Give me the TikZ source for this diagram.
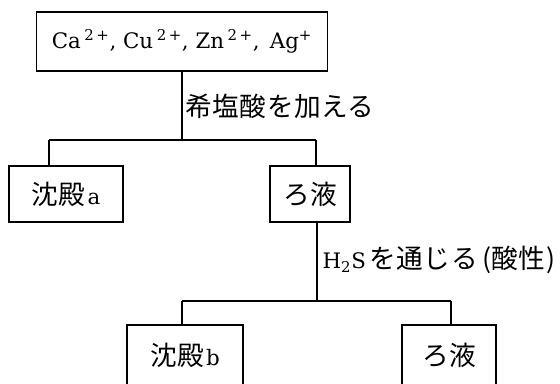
\documentclass[tikz,border=0pt]{standalone}
\usepackage{fontspec}
\setmainfont{DejaVu Serif}
\newfontfamily\jpfam[LetterSpace=2]{Noto Sans CJK JP}
\newcommand\ja[1]{{\fontsize{20}{24}\selectfont\jpfam #1}}
\newcommand\lt{\fontsize{16}{19}\selectfont}
\newcommand\ion[2]{#1\,\textsuperscript{#2}}
\begin{document}
\begin{tikzpicture}[x=0.75pt,y=-0.75pt,line width=0.8pt,
  box/.style={draw,rectangle,inner sep=0pt},
  lbl/.style={anchor=west,inner sep=0pt}]
\useasboundingbox (0,0) rectangle (560,383);
\clip (0,0) rectangle (560,383);
\node[box,minimum width=291*0.75pt,minimum height=59*0.75pt] (top) at (182,41.5)
  {\lt \ion{Ca}{2\,+}, \ion{Cu}{2\,+}, \ion{Zn}{2\,+}, \,Ag\textsuperscript{+}};
\node[box,minimum width=114*0.75pt,minimum height=56*0.75pt] (sa) at (66,194)
  {\ja{沈殿}\,\lt a};
\node[box,minimum width=80*0.75pt,minimum height=56*0.75pt] (f1) at (310,194)
  {\ja{ろ液}};
\node[box,minimum width=116*0.75pt,minimum height=60*0.75pt] (sb) at (185,355)
  {\ja{沈殿}\,\lt b};
\node[box,minimum width=94*0.75pt,minimum height=60*0.75pt] (f2) at (449,355)
  {\ja{ろ液}};
\node[lbl] (l1) at (185,106) {\ja{希塩酸を加える}};
\node[lbl] (l2) at (322,260) {\lt H\textsubscript{2}S\,\ja{を通じる\,(酸性)}};
\coordinate (ja) at (182,140);
\coordinate (la) at (49,140);
\coordinate (ra) at (316,140);
\coordinate (jb) at (317,301);
\coordinate (lb) at (182,301);
\coordinate (rb) at (451,301);
\draw (top.south -| ja) -- (ja);
\draw (la) -- (ra);
\draw (la) -- (la |- sa.north);
\draw (ra) -- (ra |- f1.north);
\draw (jb |- f1.south) -- (jb);
\draw (lb) -- (rb);
\draw (lb) -- (lb |- sb.north);
\draw (rb) -- (rb |- f2.north);
\end{tikzpicture}
\end{document}
